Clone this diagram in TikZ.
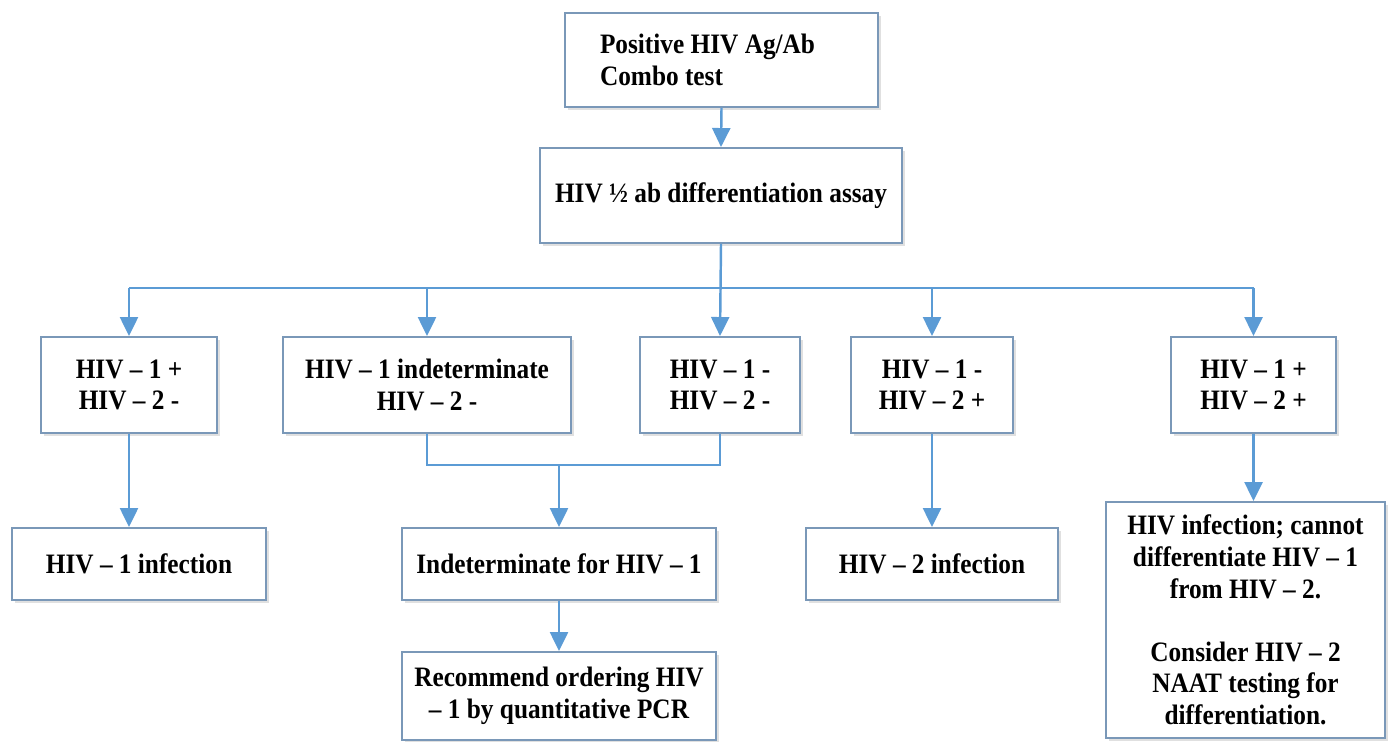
\documentclass[tikz,border=0pt]{standalone}
\usepackage{fontspec}
\setmainfont{Liberation Serif}[FakeStretch=0.9]
\usetikzlibrary{arrows.meta,shadows}
\definecolor{boxline}{HTML}{7A98B8}
\definecolor{arrowblue}{HTML}{5B9BD5}
\begin{document}
\begin{tikzpicture}[x=0.02cm,y=-0.02cm,
  box/.style={draw=boxline, line width=1.1pt, fill=white, inner sep=0pt,
    align=center, font=\fontsize{16}{18}\selectfont\bfseries,
    drop shadow={shadow xshift=1.5pt, shadow yshift=-1.5pt, opacity=0.12, fill=black}},
  wh/.style 2 args={minimum width=#1*0.02cm, minimum height=#2*0.02cm},
  link/.style={draw=arrowblue, line width=1.4pt},
  arr/.style={link, -{Triangle[width=0.36cm,length=0.38cm]}}]
\useasboundingbox (0,0) rectangle (1388,742);

\node[box, wh={313}{94}, align=flush left, text width=243*0.02cm, inner xsep=35*0.02cm] (top) at (721.5,60) {Positive HIV Ag/Ab\\Combo test};
\node[box, wh={362}{95}] (assay) at (721,195.5) {HIV ½ ab differentiation assay};

\node[box, wh={176}{96}] (a) at (129,385) {HIV – 1 +\\HIV – 2 -};
\node[box, wh={288}{96}] (b) at (427,385) {HIV – 1 indeterminate\\HIV – 2 -};
\node[box, wh={160}{96}] (c) at (720,385) {HIV – 1 -\\HIV – 2 -};
\node[box, wh={162}{96}] (d) at (932,385) {HIV – 1 -\\HIV – 2 +};
\node[box, wh={165}{96}] (e) at (1253.5,385) {HIV – 1 +\\HIV – 2 +};

\node[box, wh={254}{72}] (f) at (139,564) {HIV – 1 infection};
\node[box, wh={314}{72}] (g) at (559,564) {Indeterminate for HIV – 1};
\node[box, wh={252}{72}] (h) at (932,564) {HIV – 2 infection};
\node[box, wh={279}{236}] (i) at (1245.5,620) {HIV infection; cannot\\differentiate HIV – 1\\from HIV – 2.\\[18pt]Consider HIV – 2\\NAAT testing for\\differentiation.};
\node[box, wh={314}{88}] (j) at (559,696) {Recommend ordering HIV\\– 1 by quantitative PCR};

\coordinate (bus) at (0,288);
\coordinate (merge) at (0,465);

\draw[arr] (top.south) -- (assay.north);
\draw[arr] (assay.south) -- (c.north);
\draw[link] (a.north |- bus) -- (e.north |- bus);
\draw[arr] (a.north |- bus) -- (a.north);
\draw[arr] (b.north |- bus) -- (b.north);
\draw[arr] (d.north |- bus) -- (d.north);
\draw[arr] (e.north |- bus) -- (e.north);

\draw[link] (b.south) -- (b.south |- merge) -- (c.south |- merge) -- (c.south);
\draw[arr] (g.north |- merge) -- (g.north);
\draw[arr] (a.south) -- (a.south |- f.north);
\draw[arr] (d.south) -- (h.north);
\draw[arr] (e.south) -- (e.south |- i.north);
\draw[arr] (g.south) -- (j.north);
\end{tikzpicture}
\end{document}
